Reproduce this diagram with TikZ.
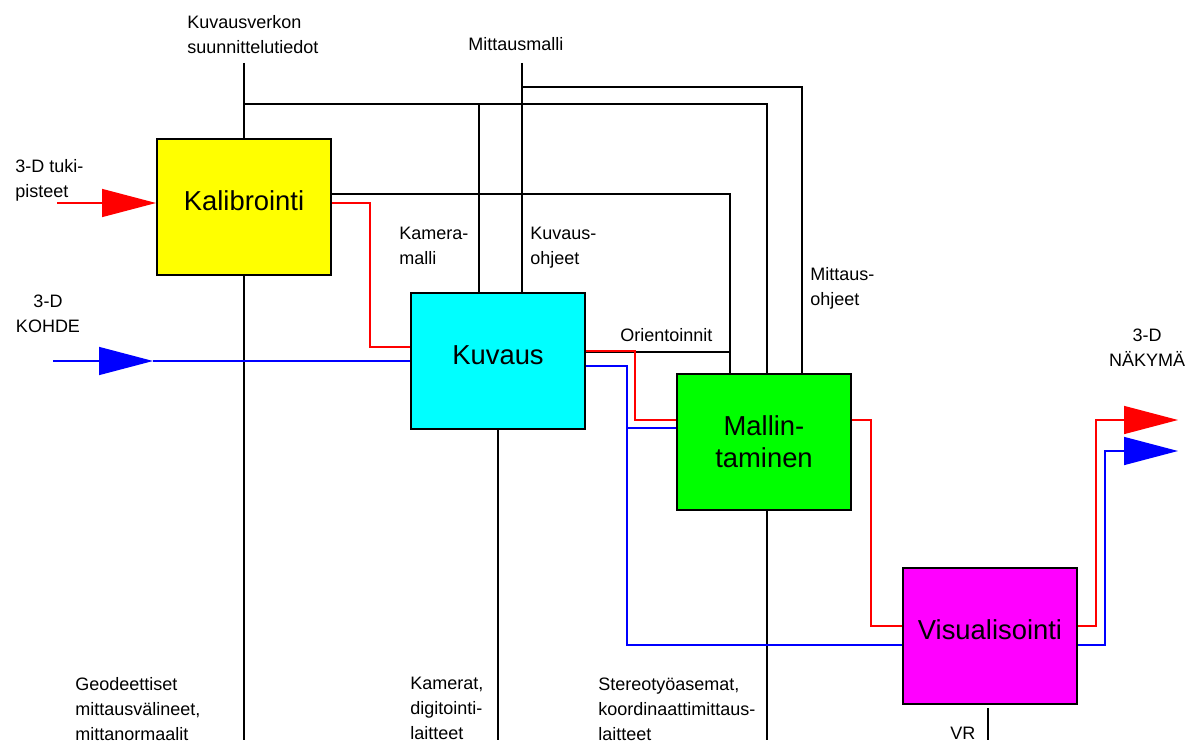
\documentclass[tikz,border=0pt]{standalone}
\usepackage{fontspec}
\setmainfont{Liberation Sans}
\usetikzlibrary{arrows.meta}
\definecolor{kalfill}{RGB}{255,255,0}
\definecolor{kuvfill}{RGB}{0,255,255}
\definecolor{malfill}{RGB}{0,255,0}
\definecolor{visfill}{RGB}{255,0,255}
\definecolor{redflow}{RGB}{255,0,0}
\definecolor{blueflow}{RGB}{0,0,255}
\begin{document}
\begin{tikzpicture}[x=0.5pt,y=-0.5pt,
        box/.style = {draw, line width=1pt,
            minimum width=87pt, minimum height=68pt,
            inner sep=0pt, align=center,
            font=\fontsize{13.7}{16}\selectfont},
        onetext/.style = {text height=0.75em, text depth=0.4em},
        lbl/.style = {anchor=north west, inner sep=0pt, align=left,
            font=\fontsize{9}{12.5}\selectfont},
        clbl/.style = {lbl, anchor=north, align=center},
        flow/.style = {line width=0.75pt},
        tip/.style = {-{Triangle[length=27pt,width=14pt]}}]

    \useasboundingbox (0,0) rectangle (1199,743);

    % Boxes
    \node[box,onetext,fill=kalfill] (kal) at (244,207) {Kalibrointi};
    \node[box,onetext,fill=kuvfill] (kuv) at (498,361) {Kuvaus};
    \node[box,fill=malfill] (mal) at (764,442) {Mallin-\\taminen};
    \node[box,onetext,fill=visfill] (vis) at (990,636) {Visualisointi};

    % Labels
    \node[lbl] (kvlbl) at (187,15) {Kuvausverkon\\suunnittelutiedot};
    \node[lbl] (mmlbl) at (468,37) {Mittausmalli};
    \node[lbl] (tplbl) at (15,159) {3-D tuki-\\pisteet};
    \node[clbl] (kohlbl) at (48,295) {3-D\\KOHDE};
    \node[lbl] (kmlbl) at (399,227) {Kamera-\\malli};
    \node[lbl] (kolbl) at (530,227) {Kuvaus-\\ohjeet};
    \node[lbl] (molbl) at (810,267) {Mittaus-\\ohjeet};
    \node[lbl] (orlbl) at (620,328) {Orientoinnit};
    \node[clbl] (nklbl) at (1147,329) {3-D\\NÄKYMÄ};
    \node[lbl] (gelbl) at (75,677) {Geodeettiset\\mittausvälineet,\\mittanormaalit};
    \node[lbl] (kalbl) at (410,677) {Kamerat,\\digitointi-\\laitteet};
    \node[lbl] (stlbl) at (598,678) {Stereotyöasemat,\\koordinaattimittaus-\\laitteet};
    \node[lbl] (vrlbl) at (950,727) {VR};

    % Kuvausverkko
    \coordinate (kvtop) at (244,63);
    \coordinate (kvbot) at (244,740);
    \coordinate (kvj) at (244,104);
    \coordinate (kvr) at (767,104);
    \draw[flow] (kvtop) -- (kal.north);
    \draw[flow] (kal.south) -- (kvbot);
    \draw[flow] (kvj) -- (kvr) -- (kvr |- mal.north);

    % Kameramalli
    \coordinate (km) at (479,104);
    \draw[flow] (km) -- (km |- kuv.north);

    % Mittausmalli and ohjeet
    \coordinate (mmtop) at (522,63);
    \coordinate (mmj) at (522,87);
    \coordinate (mo) at (802,87);
    \draw[flow] (mmtop) -- (mmtop |- kuv.north);
    \draw[flow] (mmj) -- (mo) -- (mo |- mal.north);

    % Kalibrointi to Mallintaminen, Orientoinnit
    \coordinate (ka) at (730,194);
    \coordinate (or) at (730,352);
    \draw[flow] (ka -| kal.east) -- (ka) -- (ka |- mal.north);
    \draw[flow] (or -| kuv.east) -- (or);

    % Equipment
    \coordinate (vr) at (988,708);
    \draw[flow] (kuv.south) -- (kuv.south |- kvbot);
    \draw[flow] (kvr |- mal.south) -- (kvr |- kvbot);
    \draw[flow] (vr) -- (vr |- kvbot);

    % Red flow
    \coordinate (tin) at (57,203);
    \coordinate (r1a) at (370,203);
    \coordinate (r1b) at (370,347);
    \coordinate (r2a) at (635,351);
    \coordinate (r2b) at (635,420);
    \coordinate (r3a) at (871,420);
    \coordinate (r3b) at (871,626);
    \coordinate (r4a) at (1096,626);
    \coordinate (r4b) at (1096,420);
    \coordinate (rout) at (1178,420);
    \draw[flow,redflow,tip] (tin) -- (tin -| kal.west);
    \draw[flow,redflow] (r1a -| kal.east) -- (r1a) -- (r1b) -- (r1b -| kuv.west);
    \draw[flow,redflow] (r2a -| kuv.east) -- (r2a) -- (r2b) -- (r2b -| mal.west);
    \draw[flow,redflow] (r3a -| mal.east) -- (r3a) -- (r3b) -- (r3b -| vis.west);
    \draw[flow,redflow,tip] (r4a -| vis.east) -- (r4a) -- (r4b) -- (rout);

    % Blue flow
    \coordinate (bin) at (53,361);
    \coordinate (bmid) at (153,361);
    \coordinate (b1a) at (627,366);
    \coordinate (b1b) at (627,645);
    \coordinate (b1c) at (627,428);
    \coordinate (b2a) at (1105,645);
    \coordinate (b2b) at (1105,451);
    \coordinate (bout) at (1178,451);
    \draw[flow,blueflow,tip] (bin) -- (bmid);
    \draw[flow,blueflow] (bmid) -- (bmid -| kuv.west);
    \draw[flow,blueflow] (b1a -| kuv.east) -- (b1a) -- (b1b) -- (b1b -| vis.west);
    \draw[flow,blueflow] (b1c) -- (b1c -| mal.west);
    \draw[flow,blueflow,tip] (b2a -| vis.east) -- (b2a) -- (b2b) -- (bout);

\end{tikzpicture}
\end{document}
